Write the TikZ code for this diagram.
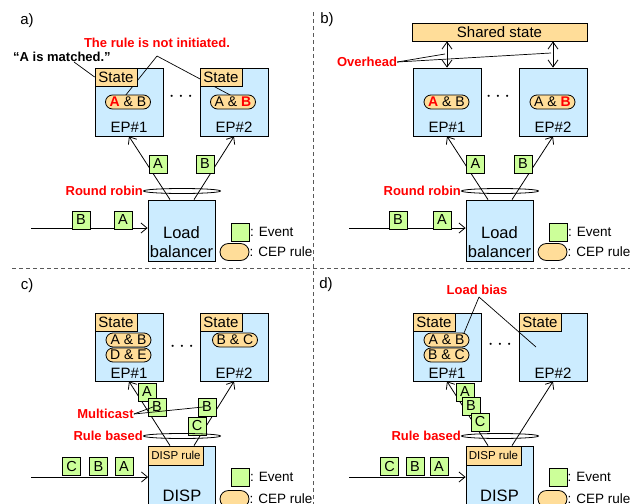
\documentclass[tikz,border=0pt]{standalone}
\usepackage{fontspec}
\setmainfont{Liberation Sans}
\usetikzlibrary{arrows.meta,shapes.geometric,positioning}

\definecolor{epblue}{RGB}{204,236,255}
\definecolor{statetan}{RGB}{255,221,153}
\definecolor{evgreen}{RGB}{204,255,153}

\tikzset{
  ep/.style={draw, fill=epblue, line width=0.8pt, minimum width=68pt, minimum height=68pt, inner sep=0pt},
  hub/.style={draw, fill=epblue, line width=0.8pt, minimum width=67pt, inner sep=0pt},
  statebox/.style={draw, fill=statetan, line width=0.8pt, minimum width=42pt, minimum height=18pt, inner sep=0pt, anchor=north west, font=\fontsize{15}{18}\selectfont},
  disprule/.style={draw, fill=statetan, line width=0.8pt, minimum width=55pt, minimum height=19pt, inner sep=0pt, anchor=north west, font=\fontsize{11.5}{13}\selectfont},
  cep/.style={draw, fill=statetan, line width=0.8pt, rounded corners=7pt, minimum width=45pt, minimum height=14pt, inner sep=0pt, font=\fontsize{14}{16}\selectfont},
  cepkey/.style={cep, minimum width=29pt, minimum height=17pt, rounded corners=8.5pt},
  ev/.style={draw, fill=evgreen, line width=0.8pt, minimum size=18pt, inner sep=0pt, font=\fontsize{14.5}{16}\selectfont},
  txt/.style={inner sep=0pt, font=\fontsize{15}{18}\selectfont},
  dots/.style={inner sep=0pt, font=\fontsize{22}{22}\selectfont},
  keytxt/.style={inner sep=0pt, anchor=west, font=\fontsize{13.5}{16}\selectfont},
  bigtxt/.style={inner sep=0pt, align=center, font=\fontsize{16.5}{19}\selectfont},
  remark/.style={inner sep=0pt, text=red, font=\fontsize{13}{15}\selectfont\bfseries},
  ring/.style={draw, ellipse, line width=0.8pt, minimum width=77pt, minimum height=5pt, inner sep=0pt},
  flow/.style={line width=0.8pt, -{Straight Barb[length=6pt,width=10pt]}},
  both/.style={line width=0.8pt, {Straight Barb[length=7pt,width=10pt]}-{Straight Barb[length=7pt,width=10pt]}},
  callout/.style={line width=0.7pt},
  divider/.style={gray!70!black, line width=1pt, dash pattern=on 4pt off 3pt}
}

\begin{document}
\begin{tikzpicture}[x=1pt,y=-1pt]
\useasboundingbox (0,0) rectangle (630,504);
\clip (0,0) rectangle (630,504);

% panel borders
\draw[divider] (313.5,12) -- (313.5,504);
\draw[divider] (12,268) -- (630,268);

% ---------- a) ----------
\node[txt] at (27,21) {a)};
\node[ep] (a1) at (129,102) {};
\node[ep] (a2) at (234,102) {};
\node[remark] (anot) at (157,43) {The rule is not initiated.};
\node[remark, text=black] (amatch) at (62,57) {“A is matched.”};
\coordinate (a-apex) at (157,56);
\coordinate (a-t1) at (125,96);
\coordinate (a-t2) at (232,96);
\draw[callout] (a-apex) -- (a-t1);
\draw[callout] (a-apex) -- (a-t2);
\node[statebox] (a1s) at (a1.north west) {State};
\node[statebox] (a2s) at (a2.north west) {State};
\draw[callout] ([xshift=12pt]amatch.south) -- (a1s.west);
\node[cep] (a1r) at (128,102) {\textcolor{red}{\textbf{A}} \& B};
\node[cep] (a2r) at (233,102) {A \& \textcolor{red}{\textbf{B}}};
\node[dots] at (181,97) {$\cdots$};
\node[txt] at (129,127) {EP\#1};
\node[txt] at (234,127) {EP\#2};

\node[hub, minimum height=61pt] (alb) at (181.5,230.5) {};
\node[bigtxt] at (181.5,242.5) {Load\\balancer};
\draw[flow] ([xshift=-11.5pt]alb.north) -- (a1.south);
\draw[flow] ([xshift=12.5pt]alb.north) -- (a2.south);
\node[ev] (aev1) at (158,164) {A};
\node[ev] (aev2) at (205,164) {B};
\node[ring] (arr) at (182,191) {};
\node[remark, anchor=east] at (arr.west) {Round robin};
\coordinate (a-in) at (31,228);
\draw[flow] (a-in) -- (a-in -| alb.west);
\node[ev] (aev3) at (81,220) {B};
\node[ev] (aev4) at (123,220) {A};
\node[ev] (akey1) at (240.5,232) {};
\node[keytxt] at (akey1.east) {: Event};
\node[cepkey] (akey2) at (234.5,252) {};
\node[keytxt] at (akey2.east) {: CEP rule};

% ---------- b) ----------
\node[txt] at (327,20) {b)};
\node[ep] (b1) at (447,102) {};
\node[ep] (b2) at (553,102) {};
\node[draw, fill=statetan, line width=0.8pt, minimum width=175pt, minimum height=18pt, inner sep=0pt, font=\fontsize{15}{18}\selectfont] (bsh) at (499.5,32) {Shared state};
\draw[both] (b1.north) -- (b1.north |- bsh.south);
\draw[both] (b2.north) -- (b2.north |- bsh.south);
\node[remark] (bover) at (367,62) {Overhead};
\coordinate (b-o1) at (445,54);
\coordinate (b-o2) at (551,53);
\draw[callout] (bover.east) -- (b-o1);
\draw[callout] (bover.east) -- (b-o2);
\node[cep] (b1r) at (446.5,102) {\textcolor{red}{\textbf{A}} \& B};
\node[cep] (b2r) at (552.5,102) {A \& \textcolor{red}{\textbf{B}}};
\node[dots] at (498,97) {$\cdots$};
\node[txt] at (447,127) {EP\#1};
\node[txt] at (553,127) {EP\#2};

\node[hub, minimum height=61pt] (blb) at (499.5,230.5) {};
\node[bigtxt] at (499.5,242.5) {Load\\balancer};
\draw[flow] ([xshift=-11.5pt]blb.north) -- (b1.south);
\draw[flow] ([xshift=12.5pt]blb.north) -- (b2.south);
\node[ev] (bev1) at (475.5,164) {A};
\node[ev] (bev2) at (523,164) {B};
\node[ring] (brr) at (500,191) {};
\node[remark, anchor=east] at (brr.west) {Round robin};
\coordinate (b-in) at (349,228);
\draw[flow] (b-in) -- (b-in -| blb.west);
\node[ev] (bev3) at (398,220) {B};
\node[ev] (bev4) at (442,220) {A};
\node[ev] (bkey1) at (558.5,232) {};
\node[keytxt] at (bkey1.east) {: Event};
\node[cepkey] (bkey2) at (552.5,252) {};
\node[keytxt] at (bkey2.east) {: CEP rule};

% ---------- c) ----------
\node[txt] at (27,286) {c)};
\node[ep] (c1) at (129,347) {};
\node[ep] (c2) at (234,347) {};
\node[statebox] (c1s) at (c1.north west) {State};
\node[statebox] (c2s) at (c2.north west) {State};
\node[cep] (c1r1) at (128.5,340) {A \& B};
\node[cep] (c1r2) at (128.5,355) {D \& E};
\node[cep] (c2r) at (235,340) {B \& C};
\node[dots] at (182,347) {$\cdots$};
\node[txt] at (129,373) {EP\#1};
\node[txt] at (234,373) {EP\#2};

\node[hub, minimum height=80pt] (cdisp) at (182,486) {};
\node[disprule] (cdr) at (cdisp.north west) {DISP rule};
\node[bigtxt] at (182,496) {DISP};
\draw[flow] ([xshift=-12pt]cdisp.north) -- (c1.south);
\draw[flow] ([xshift=12pt]cdisp.north) -- (c2.south);
\node[ev] (cev1) at (147,392) {A};
\node[ev] (cev2) at (157,407) {B};
\node[ev] (cev3) at (207,407) {B};
\node[ev] (cev4) at (197,426) {C};
\node[remark] (cmulti) at (105.5,414) {Multicast};
\draw[callout] (cmulti.east) -- ([xshift=-4pt]cev2.center);
\draw[callout] (cmulti.east) -- ([xshift=-4pt]cev3.center);
\node[ring] (crb) at (182,436) {};
\node[remark, anchor=east] at (crb.west) {Rule based};
\coordinate (c-in) at (31,477);
\draw[flow] (c-in) -- (c-in -| cdisp.west);
\node[ev] (cev5) at (71.5,466.5) {C};
\node[ev] (cev6) at (98.5,466.5) {B};
\node[ev] (cev7) at (124,466.5) {A};
\node[ev] (ckey1) at (240.5,477) {};
\node[keytxt] at (ckey1.east) {: Event};
\node[cepkey] (ckey2) at (234.5,499) {};
\node[keytxt] at (ckey2.east) {: CEP rule};

% ---------- d) ----------
\node[txt] at (326,285) {d)};
\node[ep] (d1) at (447,347) {};
\node[ep] (d2) at (553,347) {};
\node[remark] (dbias) at (477,290) {Load bias};
\coordinate (d-apex) at (479,297);
\coordinate (d-t1) at (464,333);
\coordinate (d-end) at (536,347);
\draw[callout] (d-apex) -- (d-t1);
\draw[callout] (d-apex) -- (d-end);
\node[statebox] (d1s) at (d1.north west) {State};
\node[statebox] (d2s) at (d2.north west) {State};
\node[cep] (d1r1) at (446.5,340) {A \& B};
\node[cep] (d1r2) at (446.5,355) {B \& C};
\node[dots] at (500,345) {$\cdots$};
\node[txt] at (447,373) {EP\#1};
\node[txt] at (553,373) {EP\#2};

\node[hub, minimum height=80pt] (ddisp) at (499.5,486) {};
\node[disprule] (ddr) at (ddisp.north west) {DISP rule};
\node[bigtxt] at (499.5,496) {DISP};
\draw[flow] ([xshift=-11.5pt]ddisp.north) -- (d1.south);
\draw[flow] ([xshift=12.5pt]ddisp.north) -- (d2.south);
\node[ev] (dev1) at (465,392) {A};
\node[ev] (dev2) at (471,406) {B};
\node[ev] (dev3) at (480,422) {C};
\node[ring] (drb) at (500,436) {};
\node[remark, anchor=east] at (drb.west) {Rule based};
\coordinate (d-in) at (349,477);
\draw[flow] (d-in) -- (d-in -| ddisp.west);
\node[ev] (dev4) at (389.5,466.5) {C};
\node[ev] (dev5) at (415,466.5) {B};
\node[ev] (dev6) at (439,466.5) {A};
\node[ev] (dkey1) at (558,477) {};
\node[keytxt] at (dkey1.east) {: Event};
\node[cepkey] (dkey2) at (552.5,499) {};
\node[keytxt] at (dkey2.east) {: CEP rule};
\end{tikzpicture}
\end{document}
